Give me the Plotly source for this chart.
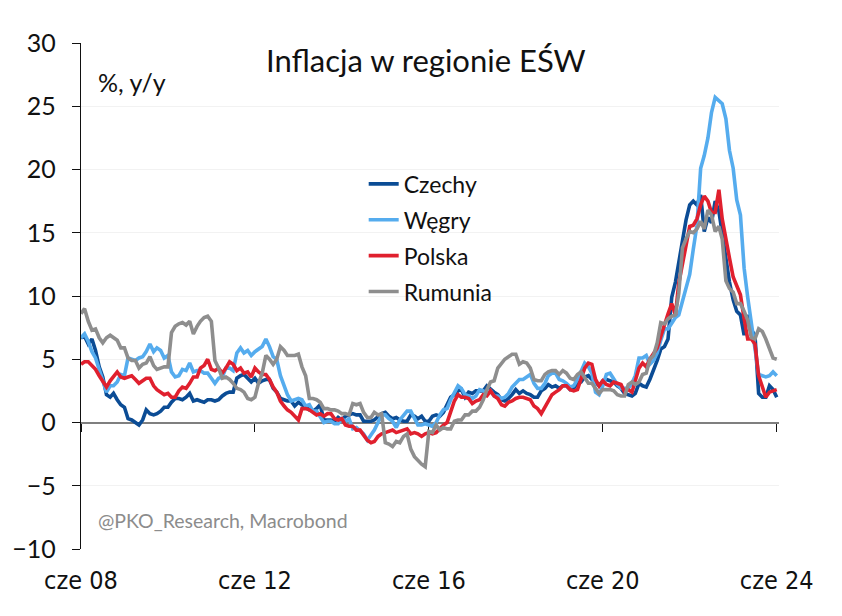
import pandas as pd
import plotly.graph_objects as go

# ---- data: CPI y/y, monthly, Jun 2008 - Jun 2024 ----
start_month = "2008-06-01"
end_month = "2024-06-01"

czechy = [
    6.7, 6.8, 6.2, 6.6, 5.7, 4.4, 3.6,
    2.2, 2.0, 2.3, 1.8, 1.4, 1.2, 0.3, 0.2, 0.0, -0.2, 0.2, 1.0,
    0.7, 0.6, 0.7, 0.9, 1.2, 1.2, 1.6, 1.9, 1.9, 1.8, 2.0, 2.3,
    1.7, 1.8, 1.7, 1.6, 1.8, 1.8, 1.7, 1.8, 2.1, 2.3, 2.4, 2.4,
    3.5, 3.7, 3.8, 3.5, 3.2, 3.5, 3.1, 3.3, 3.4, 3.4, 2.7, 2.4,
    1.9, 1.8, 1.7, 1.7, 1.3, 1.6, 1.4, 1.3, 1.0, 0.9, 1.1, 1.4,
    0.2, 0.2, 0.2, 0.1, 0.4, 0.2, 0.5, 0.6, 0.7, 0.6, 0.6, 0.1,
    0.1, 0.1, 0.2, 0.5, 0.7, 0.8, 0.5, 0.3, 0.4, 0.2, 0.1, 0.1,
    0.6, 0.5, 0.3, 0.5, 0.1, 0.1, 0.5, 0.6, 0.5, 0.8, 1.5, 2.0,
    2.2, 2.5, 2.6, 2.0, 2.4, 2.3, 2.5, 2.5, 2.5, 2.9, 2.6, 2.4,
    2.2, 1.8, 1.7, 1.9, 2.2, 2.6, 2.3, 2.5, 2.3, 2.2, 2.0, 2.0,
    2.5, 2.7, 3.0, 2.8, 2.9, 2.7, 2.9, 2.9, 2.6, 2.7, 3.1, 3.2,
    3.6, 3.7, 3.4, 3.2, 2.9, 3.3, 3.4, 3.3, 3.2, 2.9, 2.7, 2.3,
    2.2, 2.1, 2.3, 3.1, 2.9, 2.8, 3.4, 4.1, 4.9, 5.8, 6.0, 6.6,
    9.9, 11.1, 12.7, 14.2, 16.0, 17.2, 17.5, 17.2, 18.0, 15.1, 16.2, 15.8,
    17.5, 16.7, 15.0, 12.7, 11.1, 9.7, 8.8, 8.5, 6.9, 8.5, 7.3, 6.9,
    2.3, 2.0, 2.0, 2.9, 2.6, 2.0,
]

wegry = [
    6.7, 7.0, 6.4, 5.6, 5.1, 4.2, 3.5,
    2.4, 2.9, 2.9, 3.2, 3.8, 3.7, 5.1, 5.0, 4.9, 5.1, 5.2, 5.6,
    6.2, 5.6, 5.9, 5.7, 5.1, 5.3, 4.0, 3.6, 3.7, 4.2, 4.1, 4.7,
    4.0, 4.1, 4.1, 3.9, 3.9, 3.5, 3.1, 3.5, 3.6, 4.3, 4.3, 4.1,
    5.5, 5.9, 5.5, 5.7, 5.3, 5.6, 5.8, 6.0, 6.6, 6.0, 5.2, 5.0,
    3.7, 2.8, 2.2, 1.7, 1.8, 1.9, 1.8, 1.3, 1.4, 0.9, 0.9, 0.4,
    0.0, 0.1, 0.1, -0.1, -0.1, 0.3, 0.1, 0.3, -0.5, -0.4, -0.7, -0.9,
    -1.4, -1.0, -0.6, 0.0, 0.6, 0.6, 0.3, 0.1, -0.4, 0.2, 0.6, 0.9,
    0.9, 0.3, -0.2, -0.2, -0.1, -0.2, -0.3, 0.0, 0.6, 1.0, 1.1, 1.8,
    2.3, 2.9, 2.7, 2.2, 2.1, 1.9, 2.1, 2.6, 2.5, 2.2, 2.5, 2.1,
    2.1, 1.9, 2.0, 2.3, 2.8, 3.1, 3.4, 3.4, 3.6, 3.8, 3.1, 2.7,
    2.7, 3.1, 3.7, 3.9, 3.9, 3.4, 3.3, 3.1, 2.8, 2.9, 3.4, 4.0,
    4.7, 4.4, 3.9, 2.4, 2.2, 2.9, 3.8, 3.9, 3.4, 3.0, 2.7, 2.7,
    2.7, 3.1, 3.7, 5.1, 5.1, 5.3, 4.6, 4.9, 5.5, 6.5, 7.4, 7.4,
    7.9, 8.3, 8.5, 9.5, 10.7, 11.7, 13.7, 15.6, 20.1, 21.1, 22.5, 24.5,
    25.7, 25.4, 25.2, 24.0, 21.5, 20.1, 17.6, 16.4, 12.2, 9.9, 7.9, 5.5,
    3.8, 3.7, 3.6, 3.7, 4.0, 3.7,
]

polska = [
    4.6, 4.8, 4.8, 4.5, 4.2, 3.7, 3.3,
    2.8, 3.3, 3.6, 4.0, 3.6, 3.5, 3.6, 3.7, 3.4, 3.1, 3.3, 3.5,
    3.5, 2.9, 2.6, 2.4, 2.2, 2.3, 2.0, 2.0, 2.5, 2.8, 2.7, 3.1,
    3.6, 3.6, 4.3, 4.5, 5.0, 4.2, 4.1, 4.3, 3.9, 4.3, 4.8, 4.6,
    4.1, 4.3, 3.9, 4.0, 3.6, 4.3, 4.0, 3.8, 3.8, 3.4, 2.8, 2.4,
    1.7, 1.3, 1.0, 0.8, 0.5, 0.2, 1.1, 1.1, 1.0, 0.8, 0.6, 0.7,
    0.5, 0.7, 0.7, 0.3, 0.2, 0.3, -0.2, -0.3, -0.3, -0.6, -0.6, -1.0,
    -1.4, -1.6, -1.5, -1.1, -0.9, -0.8, -0.7, -0.6, -0.8, -0.7, -0.6, -0.5,
    -0.9, -0.8, -0.9, -1.1, -0.9, -0.8, -0.9, -0.8, -0.5, -0.2, 0.0, 0.8,
    1.7, 2.2, 2.0, 2.0, 1.9, 1.5, 1.7, 1.8, 2.2, 2.1, 2.5, 2.1,
    1.9, 1.4, 1.3, 1.6, 1.7, 1.9, 2.0, 2.0, 1.9, 1.8, 1.3, 1.1,
    0.7, 1.2, 1.7, 2.2, 2.4, 2.6, 2.9, 2.9, 2.6, 2.5, 2.6, 3.4,
    4.3, 4.7, 4.6, 3.4, 2.9, 3.3, 3.0, 2.9, 3.2, 3.1, 3.0, 2.4,
    2.6, 2.4, 3.2, 4.3, 4.7, 4.4, 5.0, 5.5, 5.9, 6.8, 7.8, 8.6,
    9.4, 8.5, 11.0, 12.4, 13.9, 15.5, 15.6, 16.1, 17.2, 17.9, 17.5, 16.6,
    16.6, 18.4, 16.1, 14.7, 13.0, 11.5, 10.8, 10.1, 8.2, 6.6, 6.6, 6.2,
    3.7, 2.8, 2.0, 2.4, 2.5, 2.6,
]

rumunia = [
    8.6, 9.0, 8.0, 7.3, 7.4, 6.7, 6.3,
    6.7, 6.9, 6.7, 6.5, 5.9, 5.9, 5.1, 4.9, 4.9, 4.3, 4.6, 4.7,
    5.2, 4.5, 4.2, 4.3, 4.4, 4.4, 7.1, 7.6, 7.8, 7.9, 7.7, 8.0,
    7.0, 7.6, 8.0, 8.3, 8.4, 8.0, 4.9, 4.3, 3.5, 3.6, 3.4, 3.1,
    2.7, 2.6, 2.4, 1.9, 1.8, 2.0, 3.1, 3.9, 5.3, 5.0, 4.6, 5.0,
    6.0, 5.7, 5.3, 5.3, 5.3, 5.4, 4.4, 3.7, 1.9, 1.9, 1.8, 1.6,
    1.1, 1.1, 1.0, 1.0, 0.9, 0.7, 0.7, 0.6, 1.5, 1.4, 1.5, 0.8,
    0.4, 0.4, 0.8, 0.6, 0.7, -1.6, -1.7, -1.9, -1.5, -1.6, -1.1, -0.9,
    -2.1, -2.7, -3.0, -3.3, -3.5, -0.7, -0.8, -0.2, -0.6, -0.4, -0.5, -0.5,
    0.1, 0.2, 0.2, 0.6, 0.6, 0.9, 0.9, 1.2, 1.8, 2.6, 3.2, 3.3,
    4.3, 4.7, 5.0, 5.2, 5.4, 5.4, 4.6, 4.8, 4.7, 4.3, 3.4, 3.3,
    3.3, 3.8, 4.0, 4.1, 4.1, 3.8, 4.1, 3.9, 3.5, 3.4, 3.8, 4.0,
    3.6, 3.1, 3.1, 2.7, 2.3, 2.6, 2.6, 2.6, 2.5, 2.2, 2.1, 2.1,
    3.0, 3.2, 3.0, 3.2, 3.8, 3.9, 5.0, 5.3, 6.3, 7.9, 7.8, 8.2,
    8.4, 8.5, 10.2, 13.8, 14.5, 15.1, 15.0, 15.3, 15.9, 15.3, 16.8, 16.4,
    15.1, 15.5, 14.5, 11.2, 10.6, 10.3, 9.4, 9.4, 8.8, 8.1, 6.7, 6.6,
    7.4, 7.2, 6.6, 5.9, 5.1, 5.0,
]

series_names = ["Czechy", "Węgry", "Polska", "Rumunia"]
series_colors = ["#0B4C95", "#55ACEE", "#E0202E", "#8E8E8E"]

tick_dates = ["2008-06-01", "2012-06-01", "2016-06-01", "2020-06-01", "2024-06-01"]
tick_labels = ["cze 08", "cze 12", "cze 16", "cze 20", "cze 24"]
y_ticks = [-10, -5, 0, 5, 10, 15, 20, 25, 30]

months = pd.date_range(start_month, end_month, freq="MS")

fig = go.Figure()
for name, color, vals in zip(series_names, series_colors, [czechy, wegry, polska, rumunia]):
    fig.add_trace(go.Scatter(
        x=months, y=vals, mode="lines", name=name,
        line=dict(color=color, width=3.6),
        legendgroup=name,
    ))

# helper trace for the tick axis drawn along y = 0
fig.add_trace(go.Scatter(x=[months[0]], y=[None], xaxis="x2", yaxis="y",
                         showlegend=False, hoverinfo="skip", mode="lines"))

x_range = ["2008-06-01", "2024-06-20"]
FONT = "Lato, 'Noto Sans', sans-serif"

fig.update_layout(
    width=842, height=616, autosize=False,
    margin=dict(l=78, r=63, t=43, b=67),
    paper_bgcolor="white", plot_bgcolor="white",
    font=dict(family=FONT, color="#111111"),
    showlegend=True,
    legend=dict(
        x=0.405, y=0.764, xanchor="left", yanchor="top",
        font=dict(size=23, family=FONT, color="#111111"),
        bgcolor="rgba(0,0,0,0)", borderwidth=0,
        traceorder="grouped", tracegroupgap=3,
    ),
    xaxis=dict(
        type="date", range=x_range,
        tickvals=tick_dates, ticktext=tick_labels,
        showline=False, ticks="", showgrid=False, zeroline=False,
        tickfont=dict(size=25, family="'Liberation Sans Narrow', 'DejaVu Sans Condensed', sans-serif", color="#111111"),
        ticklabelstandoff=14,
    ),
    xaxis2=dict(
        type="date", range=x_range, overlaying="x", anchor="free", position=0.25,
        tickvals=tick_dates, showticklabels=False,
        showline=True, linecolor="#7F7F7F", linewidth=2,
        ticks="outside", ticklen=8, tickwidth=1.3, tickcolor="#111111",
        showgrid=False, zeroline=False, layer="below traces",
    ),
    yaxis=dict(
        range=[-10, 30], tickvals=y_ticks,
        showline=True, linecolor="#111111", linewidth=1.3,
        ticks="outside", ticklen=8, tickwidth=1.3, tickcolor="#111111",
        showgrid=True, gridcolor="#F2F2F2", gridwidth=1,
        zeroline=False,
        tickfont=dict(size=25, family=FONT, color="#111111"),
        ticklabelstandoff=11,
    ),
)

fig.add_annotation(text="Inflacja w regionie EŚW", xref="paper", yref="paper",
                   x=0.494, y=0.966, xanchor="center", yanchor="middle",
                   showarrow=False, font=dict(size=31, family=FONT, color="#111111"))
fig.add_annotation(text="%, y/y", xref="paper", yref="paper",
                   x=0.021, y=0.922, xanchor="left", yanchor="middle",
                   showarrow=False, font=dict(size=25, family=FONT, color="#111111"))
fig.add_annotation(text="@PKO_Research, Macrobond", xref="paper", yref="paper",
                   x=0.021, y=0.056, xanchor="left", yanchor="middle",
                   showarrow=False, font=dict(size=19.5, family=FONT, color="#8C8C8C"))

fig.write_html("out.html")
